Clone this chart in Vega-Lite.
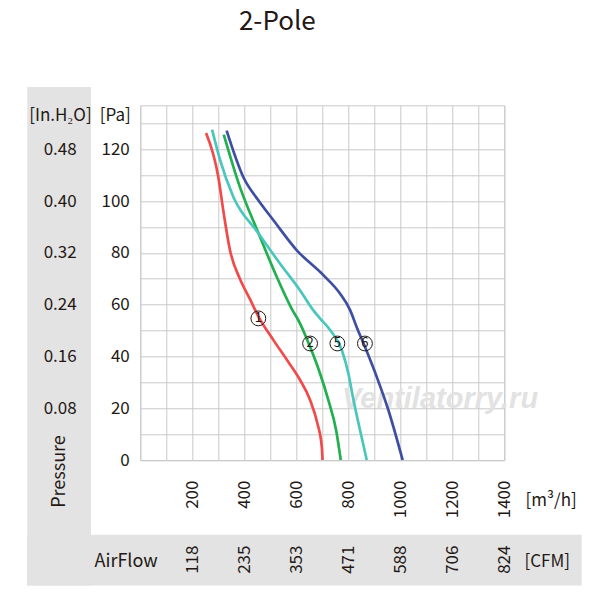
{
  "$schema": "https://vega.github.io/schema/vega-lite/v6.json",
  "width": 364,
  "height": 354.7,
  "autosize": {"type": "none"},
  "padding": {"left": 140.3, "top": 105.3, "right": 95.7, "bottom": 140},
  "background": "white",
  "title": {
    "text": "2-Pole",
    "font": "Noto Sans CJK JP",
    "fontSize": 26,
    "fontWeight": "normal",
    "color": "#231815",
    "anchor": "middle",
    "frame": "group",
    "baseline": "alphabetic",
    "dx": -45,
    "offset": 31
  },
  "datasets": {
    "curves": [
      {"curve": "1", "airflow": 253, "pressure": 126.3},
      {"curve": "1", "airflow": 300, "pressure": 109.3},
      {"curve": "1", "airflow": 319, "pressure": 96.5},
      {"curve": "1", "airflow": 345, "pressure": 81},
      {"curve": "1", "airflow": 383, "pressure": 70},
      {"curve": "1", "airflow": 420, "pressure": 62.5},
      {"curve": "1", "airflow": 454, "pressure": 55.5},
      {"curve": "1", "airflow": 512, "pressure": 46.3},
      {"curve": "1", "airflow": 563, "pressure": 38.8},
      {"curve": "1", "airflow": 614, "pressure": 31},
      {"curve": "1", "airflow": 653, "pressure": 23.2},
      {"curve": "1", "airflow": 681, "pressure": 14.2},
      {"curve": "1", "airflow": 698, "pressure": 5.1},
      {"curve": "1", "airflow": 701, "pressure": 0},
      {"curve": "2", "airflow": 321, "pressure": 125.7},
      {"curve": "2", "airflow": 383, "pressure": 105.5},
      {"curve": "2", "airflow": 455, "pressure": 87.5},
      {"curve": "2", "airflow": 525, "pressure": 70.7},
      {"curve": "2", "airflow": 582, "pressure": 58.5},
      {"curve": "2", "airflow": 614, "pressure": 52.8},
      {"curve": "2", "airflow": 653, "pressure": 43.7},
      {"curve": "2", "airflow": 691, "pressure": 33.5},
      {"curve": "2", "airflow": 723, "pressure": 23.2},
      {"curve": "2", "airflow": 753, "pressure": 11.6},
      {"curve": "2", "airflow": 771, "pressure": 0},
      {"curve": "5", "airflow": 276, "pressure": 127.6},
      {"curve": "5", "airflow": 307, "pressure": 115.8},
      {"curve": "5", "airflow": 358, "pressure": 101.6},
      {"curve": "5", "airflow": 455, "pressure": 87.5},
      {"curve": "5", "airflow": 537, "pressure": 75.9},
      {"curve": "5", "airflow": 614, "pressure": 65.6},
      {"curve": "5", "airflow": 665, "pressure": 57.9},
      {"curve": "5", "airflow": 691, "pressure": 54.7},
      {"curve": "5", "airflow": 730, "pressure": 50.2},
      {"curve": "5", "airflow": 775, "pressure": 42.5},
      {"curve": "5", "airflow": 800, "pressure": 33.5},
      {"curve": "5", "airflow": 820, "pressure": 23.2},
      {"curve": "5", "airflow": 845, "pressure": 11.6},
      {"curve": "5", "airflow": 871, "pressure": 0},
      {"curve": "6", "airflow": 332, "pressure": 127.2},
      {"curve": "6", "airflow": 396, "pressure": 109.3},
      {"curve": "6", "airflow": 454, "pressure": 100.3},
      {"curve": "6", "airflow": 512, "pressure": 92.6},
      {"curve": "6", "airflow": 602, "pressure": 81},
      {"curve": "6", "airflow": 704, "pressure": 71.4},
      {"curve": "6", "airflow": 768, "pressure": 64.3},
      {"curve": "6", "airflow": 807, "pressure": 57.9},
      {"curve": "6", "airflow": 832, "pressure": 51.4},
      {"curve": "6", "airflow": 864, "pressure": 43.7},
      {"curve": "6", "airflow": 909, "pressure": 32.2},
      {"curve": "6", "airflow": 954, "pressure": 19.3},
      {"curve": "6", "airflow": 1009, "pressure": 0}
    ],
    "tags": [
      {"curve": "1", "airflow": 454, "pressure": 54.7},
      {"curve": "2", "airflow": 653, "pressure": 45},
      {"curve": "5", "airflow": 758, "pressure": 45},
      {"curve": "6", "airflow": 864, "pressure": 45}
    ]
  },
  "resolve": {"axis": {"x": "independent", "y": "independent"}},
  "layer": [
    {
      "data": {"values": [{}]},
      "mark": {"type": "rect", "color": "#e3e3e3"},
      "encoding": {
        "x": {"datum": -434.6, "type": "quantitative", "scale": {"domain": [0, 1400], "nice": false}, "axis": null},
        "x2": {"datum": -189.6},
        "y": {"datum": 144.1, "type": "quantitative", "scale": {"domain": [0, 137], "nice": false}, "axis": null},
        "y2": {"datum": -48.5}
      }
    },
    {
      "data": {"values": [{}]},
      "mark": {"type": "rect", "color": "#e3e3e3"},
      "encoding": {
        "x": {"datum": -434.6, "type": "quantitative", "scale": {"domain": [0, 1400], "nice": false}, "axis": null},
        "x2": {"datum": 1697.7},
        "y": {"datum": -28.9, "type": "quantitative", "scale": {"domain": [0, 137], "nice": false}, "axis": null},
        "y2": {"datum": -48.5}
      }
    },
    {
      "data": {"values": [{"site": "Ventilatorry.ru"}]},
      "mark": {"type": "text", "font": "Liberation Sans", "fontStyle": "italic", "fontWeight": "bold", "fontSize": 29, "color": "#e2e2e2", "align": "center", "baseline": "alphabetic"},
      "encoding": {
        "x": {"datum": 1153, "type": "quantitative", "scale": {"domain": [0, 1400], "nice": false}, "axis": null},
        "y": {"datum": 20, "type": "quantitative", "scale": {"domain": [0, 137], "nice": false}, "axis": null},
        "text": {"field": "site"}
      }
    },
    {
      "data": {"name": "curves"},
      "mark": {"type": "line", "interpolate": "monotone", "strokeWidth": 2.7},
      "encoding": {
        "x": {
          "field": "airflow",
          "type": "quantitative",
          "scale": {"domain": [0, 1400], "nice": false},
          "axis": {
            "values": [0, 100, 200, 300, 400, 500, 600, 700, 800, 900, 1000, 1100, 1200, 1300, 1400],
            "format": "d",
            "labelExpr": "datum.value > 0 && datum.value % 200 == 0 ? datum.label : ''",
            "grid": true,
            "ticks": false,
            "domain": false,
            "labelAngle": -90,
            "labelAlign": "right",
            "labelBaseline": "middle",
            "labelPadding": 20,
            "labelOverlap": false,
            "labelFlush": false,
            "title": "[m³/h]",
            "titleAngle": 0,
            "titleAlign": "left",
            "titleBaseline": "middle",
            "titleX": 384.7,
            "titleY": 40
          }
        },
        "y": {
          "field": "pressure",
          "type": "quantitative",
          "scale": {"domain": [0, 137], "nice": false},
          "axis": {
            "values": [0, 10, 20, 30, 40, 50, 60, 70, 80, 90, 100, 110, 120, 130],
            "format": "d",
            "labelExpr": "datum.value % 20 == 0 ? datum.label : ''",
            "grid": true,
            "ticks": false,
            "domain": false,
            "labelPadding": 11,
            "labelOverlap": false,
            "labelFlush": false,
            "title": "[Pa]",
            "titleAngle": 0,
            "titleAlign": "right",
            "titleBaseline": "middle",
            "titleX": -10,
            "titleY": 9.7
          }
        },
        "color": {
          "field": "curve",
          "type": "nominal",
          "scale": {"domain": ["1", "2", "5", "6"], "range": ["#f14a4b", "#21af50", "#4ac6bd", "#3e4fa1"]},
          "legend": null
        }
      }
    },
    {
      "data": {"name": "tags"},
      "mark": {"type": "point", "shape": "circle", "size": 220, "filled": false, "stroke": "#231815", "strokeWidth": 1, "opacity": 1},
      "encoding": {
        "x": {
          "field": "airflow",
          "type": "quantitative",
          "scale": {"domain": [0, 1400], "nice": false},
          "axis": {
            "orient": "bottom",
            "offset": 80,
            "values": [200, 400, 600, 800, 1000, 1200, 1400],
            "labelExpr": "datum.value == 200 ? '118' : datum.value == 400 ? '235' : datum.value == 600 ? '353' : datum.value == 800 ? '471' : datum.value == 1000 ? '588' : datum.value == 1200 ? '706' : '824'",
            "grid": false,
            "ticks": false,
            "domain": false,
            "labelAngle": -90,
            "labelAlign": "right",
            "labelBaseline": "middle",
            "labelPadding": 5,
            "labelOverlap": false,
            "labelFlush": false,
            "zindex": 1,
            "title": "[CFM]",
            "titleAngle": 0,
            "titleAlign": "left",
            "titleBaseline": "middle",
            "titleX": 383.7,
            "titleY": 21
          }
        },
        "y": {
          "field": "pressure",
          "type": "quantitative",
          "scale": {"domain": [0, 137], "nice": false},
          "axis": {
            "orient": "left",
            "offset": 70,
            "values": [20, 40, 60, 80, 100, 120],
            "labelExpr": "format(datum.value * 0.004, '.2f')",
            "grid": false,
            "ticks": false,
            "domain": false,
            "labelAlign": "center",
            "labelPadding": 10.6,
            "labelOverlap": false,
            "labelFlush": false,
            "zindex": 1,
            "title": "[In.H₂O]",
            "titleAngle": 0,
            "titleAlign": "center",
            "titleBaseline": "middle",
            "titleX": -10.4,
            "titleY": 9.7
          }
        }
      }
    },
    {
      "data": {"name": "tags"},
      "mark": {"type": "text", "fontSize": 13, "color": "#231815", "align": "center", "baseline": "middle"},
      "encoding": {
        "x": {
          "field": "airflow",
          "type": "quantitative",
          "scale": {"domain": [0, 1400], "nice": false},
          "axis": {
            "orient": "bottom",
            "offset": 80,
            "labels": false,
            "grid": false,
            "ticks": false,
            "domain": false,
            "zindex": 1,
            "title": "AirFlow",
            "titleFontSize": 18,
            "titleAngle": 0,
            "titleAlign": "left",
            "titleBaseline": "middle",
            "titleX": -46.3,
            "titleY": 21.7
          }
        },
        "y": {
          "field": "pressure",
          "type": "quantitative",
          "scale": {"domain": [0, 137], "nice": false},
          "axis": {
            "orient": "left",
            "offset": 70,
            "labels": false,
            "grid": false,
            "ticks": false,
            "domain": false,
            "zindex": 1,
            "title": "Pressure",
            "titleFontSize": 18,
            "titleAngle": -90,
            "titleAlign": "center",
            "titleBaseline": "middle",
            "titleX": -11.3,
            "titleY": 365.7
          }
        },
        "text": {"field": "curve"}
      }
    }
  ],
  "config": {
    "font": "Noto Sans CJK JP",
    "view": {"stroke": "#c9c9c9", "strokeWidth": 1},
    "axis": {
      "gridColor": "#c9c9c9",
      "gridWidth": 1,
      "labelFont": "Noto Sans CJK JP",
      "labelFontSize": 17,
      "labelColor": "#231815",
      "titleFont": "Noto Sans CJK JP",
      "titleFontSize": 17,
      "titleFontWeight": "normal",
      "titleColor": "#231815"
    },
    "text": {"font": "Noto Sans CJK JP"}
  }
}
